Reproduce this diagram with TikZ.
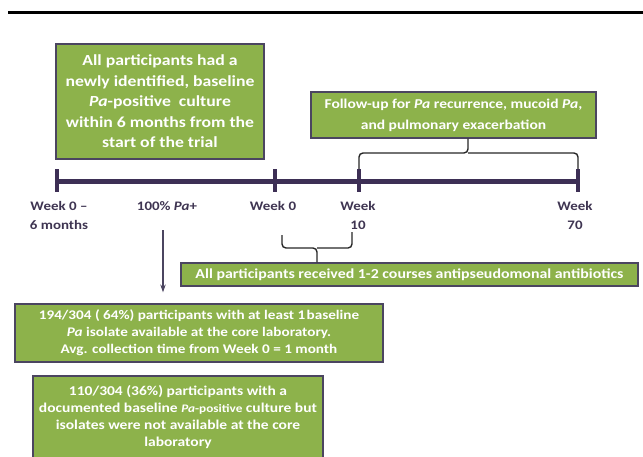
\documentclass[tikz,border=0pt]{standalone}
\usepackage{fontspec}
\setmainfont{Carlito}[FakeStretch=1.15]
\usetikzlibrary{arrows.meta}
\definecolor{boxgreen}{HTML}{8DB24B}
\definecolor{boxline}{HTML}{4B4560}
\definecolor{tlcol}{HTML}{3D2F55}
\definecolor{lblcol}{HTML}{3F3552}
\begin{document}
\begin{tikzpicture}[x=1pt,y=-1pt,
  gbox/.style={draw=boxline, line width=1.3pt, fill=boxgreen, text=white, align=center, inner sep=0pt},
  tlabel/.style={text=lblcol, font=\bfseries\fontsize{13}{19}\selectfont, align=center, inner sep=0pt},
  bracepath/.style={draw=black!85, line width=1.4pt, rounded corners=4pt},
  tick/.style={draw=tlcol, line width=4pt}]
\useasboundingbox (0,0) rectangle (643,456);
% top rule
\draw[line width=2.2pt] (8,12.5) -- (643,12.5);
% timeline
\coordinate (t0) at (57,181);
\coordinate (t1) at (275,181);
\coordinate (t2) at (359,181);
\coordinate (t3) at (578,181);
\draw[draw=tlcol, line width=5pt] (t0) -- (t3);
\foreach \c in {t0,t1,t2,t3} \draw[tick] ([yshift=12pt]\c) -- ([yshift=-11pt]\c);
% boxes
\node[gbox, minimum width=208pt, minimum height=115pt, font=\bfseries\fontsize{15.4}{20.5}\selectfont] (b1) at (160,101.5)
  {All participants had a\\newly identified, baseline\\\textit{Pa}-positive\ \ culture\\within 6 months from the\\start of the trial};
\node[gbox, minimum width=285pt, minimum height=46pt, font=\bfseries\fontsize{13.5}{21}\selectfont] (fu) at (453.5,115)
  {Follow-up for \textit{Pa} recurrence, mucoid \textit{Pa},\\and pulmonary exacerbation};
\node[gbox, minimum width=457pt, minimum height=23pt, font=\bfseries\fontsize{13.8}{17}\selectfont] (ab) at (409.5,274.5)
  {All participants received 1-2 courses antipseudomonal antibiotics};
\node[gbox, minimum width=368pt, minimum height=58pt, font=\bfseries\fontsize{13.2}{17}\selectfont] (b3) at (199,333)
  {194/304 ( 64\%) participants with at least 1\hspace{0.1em}baseline\\\textit{Pa} isolate available at the core laboratory.\\Avg. collection time from Week 0 = 1 month};
\node[gbox, minimum width=290pt, minimum height=82pt, font=\bfseries\fontsize{13.5}{17}\selectfont] (b4) at (178,417)
  {110/304 (36\%) participants with a\\documented baseline {\fontsize{11.5}{17}\selectfont\textit{Pa}-positive} culture but\\isolates were not available at the core\\laboratory};
% timeline labels
\node[tlabel] (l0) at (59,215.5) {Week 0 --\\6 months};
\node[tlabel] (lpa) at (167,206) {100\% \textit{Pa}+};
\node[tlabel] (l1) at (273,206) {Week 0};
\node[tlabel] (l2) at (358,215.5) {Week\\10};
\node[tlabel] (l3) at (575,215.5) {Week\\70};
% arrow
\coordinate (arrtop) at (163,230);
\draw[draw=boxline, line width=1.1pt, -{Stealth[length=8pt,width=5.5pt]}, shorten >=11pt] (arrtop) -- (arrtop |- b3.north);
% upper brace
\coordinate (fuj) at (468,153);
\draw[bracepath] ([yshift=12pt]t2) |- (fuj) -- (fuj |- fu.south);
\draw[bracepath] ([yshift=12pt]t3) |- (fuj);
% lower brace
\coordinate (lbj) at (317,248);
\coordinate (lbl) at (282,235);
\coordinate (lbr) at (352,232);
\draw[bracepath] (lbl) |- (lbj) -- (lbj |- ab.north);
\draw[bracepath] (lbr) |- (lbj);
\end{tikzpicture}
\end{document}
